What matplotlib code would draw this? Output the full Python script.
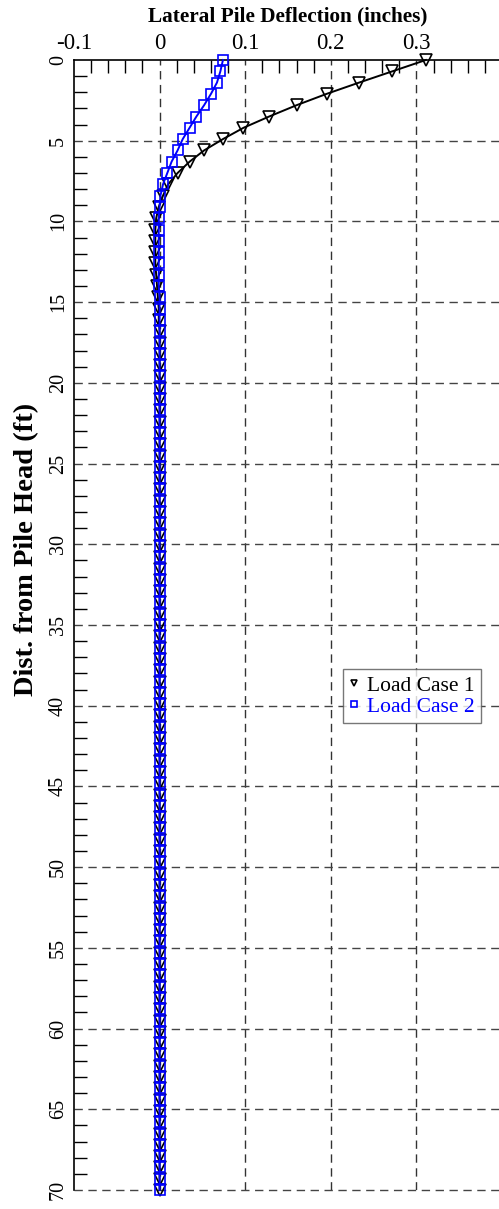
import matplotlib
matplotlib.use("Agg")
import matplotlib.pyplot as plt
from matplotlib.ticker import MultipleLocator

plt.rcParams['font.family'] = ['Liberation Serif', 'DejaVu Serif']

depth = [0.0, 0.7, 1.4, 2.1, 2.8, 3.5, 4.2, 4.9, 5.6, 6.3,
         7.0, 7.7, 8.4, 9.1, 9.8, 10.5, 11.2, 11.9, 12.6, 13.3,
         14.0, 14.7, 15.4, 16.1, 16.8, 17.5, 18.2, 18.9, 19.6, 20.3,
         21.0, 21.7, 22.4, 23.1, 23.8, 24.5, 25.2, 25.9, 26.6, 27.3,
         28.0, 28.7, 29.4, 30.1, 30.8, 31.5, 32.2, 32.9, 33.6, 34.3,
         35.0, 35.7, 36.4, 37.1, 37.8, 38.5, 39.2, 39.9, 40.6, 41.3,
         42.0, 42.7, 43.4, 44.1, 44.8, 45.5, 46.2, 46.9, 47.6, 48.3,
         49.0, 49.7, 50.4, 51.1, 51.8, 52.5, 53.2, 53.9, 54.6, 55.3,
         56.0, 56.7, 57.4, 58.1, 58.8, 59.5, 60.2, 60.9, 61.6, 62.3,
         63.0, 63.7, 64.4, 65.1, 65.8, 66.5, 67.2, 67.9, 68.6, 69.3,
         70.0]

case1 = [0.311, 0.272, 0.233, 0.195, 0.160, 0.128, 0.098, 0.074, 0.052, 0.035,
         0.021, 0.010, 0.004, -0.001, -0.004, -0.005, -0.005, -0.005, -0.005, -0.004,
         -0.003, -0.002, -0.001, -0.001, 0.0, 0.0, 0.0, 0.0, 0.0, 0.0,
         0.0, 0.0, 0.0, 0.0, 0.0, 0.0, 0.0, 0.0, 0.0, 0.0,
         0.0, 0.0, 0.0, 0.0, 0.0, 0.0, 0.0, 0.0, 0.0, 0.0,
         0.0, 0.0, 0.0, 0.0, 0.0, 0.0, 0.0, 0.0, 0.0, 0.0,
         0.0, 0.0, 0.0, 0.0, 0.0, 0.0, 0.0, 0.0, 0.0, 0.0,
         0.0, 0.0, 0.0, 0.0, 0.0, 0.0, 0.0, 0.0, 0.0, 0.0,
         0.0, 0.0, 0.0, 0.0, 0.0, 0.0, 0.0, 0.0, 0.0, 0.0,
         0.0, 0.0, 0.0, 0.0, 0.0, 0.0, 0.0, 0.0, 0.0, 0.0,
         0.0]

case2 = [0.074, 0.071, 0.067, 0.060, 0.052, 0.043, 0.035, 0.027, 0.021, 0.014,
         0.009, 0.004, 0.001, 0.0, -0.001, -0.001, -0.001, -0.001, -0.001, -0.001,
         -0.001, 0.0, 0.0, 0.0, 0.0, 0.0, 0.0, 0.0, 0.0, 0.0,
         0.0, 0.0, 0.0, 0.0, 0.0, 0.0, 0.0, 0.0, 0.0, 0.0,
         0.0, 0.0, 0.0, 0.0, 0.0, 0.0, 0.0, 0.0, 0.0, 0.0,
         0.0, 0.0, 0.0, 0.0, 0.0, 0.0, 0.0, 0.0, 0.0, 0.0,
         0.0, 0.0, 0.0, 0.0, 0.0, 0.0, 0.0, 0.0, 0.0, 0.0,
         0.0, 0.0, 0.0, 0.0, 0.0, 0.0, 0.0, 0.0, 0.0, 0.0,
         0.0, 0.0, 0.0, 0.0, 0.0, 0.0, 0.0, 0.0, 0.0, 0.0,
         0.0, 0.0, 0.0, 0.0, 0.0, 0.0, 0.0, 0.0, 0.0, 0.0,
         0.0]

series_labels = ["Load Case 1", "Load Case 2"]
x_ticks = [-0.1, 0, 0.1, 0.2, 0.3]
x_ticklabels = ["-0.1", "0", "0.1", "0.2", "0.3"]
y_ticks = [0, 5, 10, 15, 20, 25, 30, 35, 40, 45, 50, 55, 60, 65, 70]

W, H = 499, 1209
fig = plt.figure(figsize=(W / 100, H / 100), dpi=100)
left, right, top, bottom = 74, 502, 60, 1190
ax = fig.add_axes([left / W, 1 - bottom / H, (right - left) / W, (bottom - top) / H])

ax.plot(case1, depth, color='black', lw=1.4, marker='v', markersize=8,
        markerfacecolor='none', markeredgecolor='black', markeredgewidth=1.2,
        label=series_labels[0], clip_on=False, zorder=3)
ax.plot(case2, depth, color='#0000FF', lw=1.4, marker='s', markersize=6.5,
        markerfacecolor='none', markeredgecolor='#0000FF', markeredgewidth=1.2,
        label=series_labels[1], clip_on=False, zorder=3)

ax.set_xlim(-0.1, 0.4)
ax.set_ylim(70, 0)

ax.xaxis.tick_top()
ax.set_xticks(x_ticks)
ax.set_xticklabels(x_ticklabels)
ax.set_yticks(y_ticks)
ax.set_yticklabels([str(v) for v in y_ticks], rotation=90, va='center')
ax.xaxis.set_minor_locator(MultipleLocator(0.02))
ax.yaxis.set_minor_locator(MultipleLocator(1))
ax.tick_params(axis='x', which='major', length=0, labelsize=16.5, pad=4)
ax.tick_params(axis='y', which='major', length=0, labelsize=14.5, pad=4.5)
ax.tick_params(axis='both', which='minor', direction='in', length=9, width=1.0)
ax.tick_params(axis='x', which='minor', top=True, bottom=False)
ax.tick_params(axis='y', which='minor', left=True, right=False)

for v in [0, 0.1, 0.2, 0.3]:
    ax.axvline(v, color='#333333', lw=1.0, ls=(0, (6, 4)), zorder=1)
for v in y_ticks[1:]:
    ax.axhline(v, color='#444444', lw=1.0, ls=(0, (6, 4)), zorder=1, clip_on=False)

ax.spines['right'].set_visible(False)
ax.spines['bottom'].set_visible(False)
ax.spines['left'].set_linewidth(1.2)
ax.spines['top'].set_linewidth(1.2)

leg = ax.legend(loc='upper left', bbox_to_anchor=((343 - left) / (right - left), (bottom - 669) / (bottom - top)),
                fontsize=15.5, frameon=True, fancybox=False, edgecolor='#555555',
                handlelength=0.45, handletextpad=0.35, borderpad=0.3, labelspacing=0.05,
                markerscale=0.6, borderaxespad=0)
leg.get_frame().set_linewidth(1.0)
for h in leg.legend_handles:
    h.set_linestyle('none')
leg.get_texts()[1].set_color('#0000FF')

fig.text((left + right) / 2 / W, 1 - 16 / H, "Lateral Pile Deflection (inches)",
         ha='center', va='center', fontsize=15.3, fontweight='bold')
fig.text(27 / W, 1 - 549 / H, "Dist. from Pile Head (ft)", rotation=90,
         ha='center', va='center', fontsize=20.5, fontweight='bold')

fig.savefig("out.png", dpi=100)
